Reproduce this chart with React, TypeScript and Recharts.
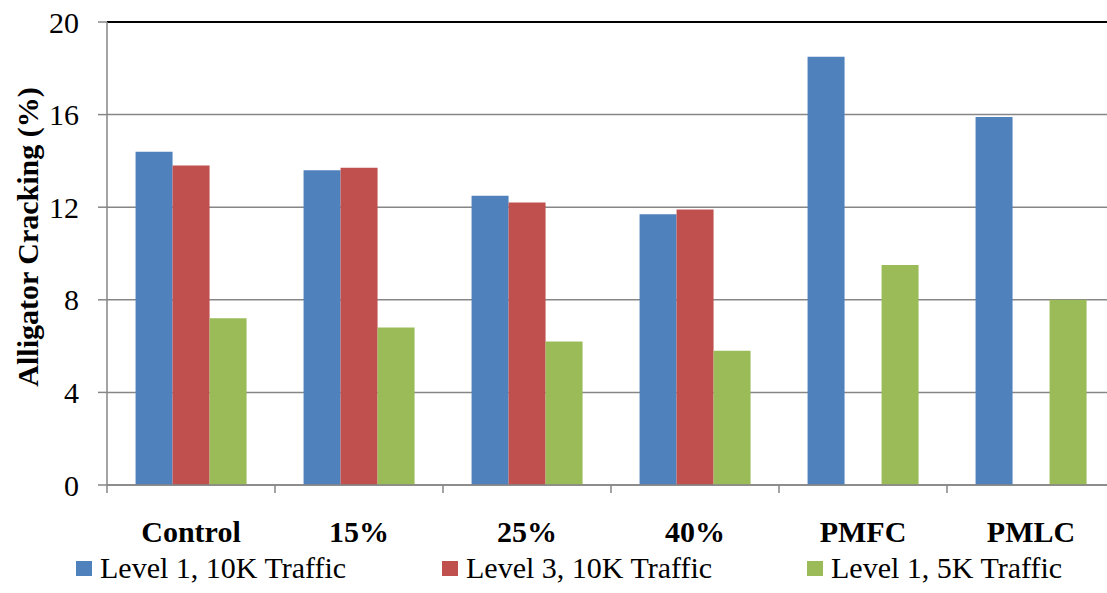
import React from 'react';
import {
  BarChart,
  Bar,
  XAxis,
  YAxis,
  CartesianGrid,
  ReferenceLine,
  Legend,
} from 'recharts';

const categories = ['Control', '15%', '25%', '40%', 'PMFC', 'PMLC'];
const level1Traffic10K = [14.4, 13.6, 12.5, 11.7, 18.5, 15.9];
const level3Traffic10K = [13.8, 13.7, 12.2, 11.9, null, null];
const level1Traffic5K = [7.2, 6.8, 6.2, 5.8, 9.5, 8.0];
const yTicks = [0, 4, 8, 12, 16, 20];

const seriesNames = ['Level 1, 10K Traffic', 'Level 3, 10K Traffic', 'Level 1, 5K Traffic'];
const colors = ['#4F81BD', '#C0504D', '#9BBB59'];

const data = categories.map((name, i) => ({
  name,
  l1_10k: level1Traffic10K[i],
  l3_10k: level3Traffic10K[i],
  l1_5k: level1Traffic5K[i],
}));

const FONT = '"Liberation Serif", "DejaVu Serif", "Times New Roman", serif';
const GRID = '#868686';
const BAND = 168;

function CategoryTick(props: any) {
  const { x, y, payload } = props;
  return (
    <g>
      <line x1={x - BAND / 2} x2={x - BAND / 2} y1={y} y2={y + 8} stroke={GRID} strokeWidth={1.5} />
      <text
        x={x}
        y={y + 57}
        textAnchor="middle"
        style={{ fontFamily: FONT }}
        fontWeight="bold"
        fontSize={30}
        fill="#000"
      >
        {payload.value}
      </text>
    </g>
  );
}

function LegendContent() {
  const lefts = [76, 442, 807];
  return (
    <div style={{ position: 'relative', height: 48, width: 1107 }}>
      {seriesNames.map((n, i) => (
        <div
          key={n}
          style={{
            position: 'absolute',
            left: lefts[i],
            top: 5,
            display: 'flex',
            alignItems: 'center',
            fontFamily: FONT,
            fontSize: 30,
            color: '#000',
            whiteSpace: 'nowrap',
            lineHeight: '36px',
          }}
        >
          <span style={{ display: 'inline-block', width: 16, height: 15, background: colors[i], marginRight: 8 }} />
          {n}
        </div>
      ))}
    </div>
  );
}

export default function App() {
  return (
    <div style={{ position: 'absolute', left: 0, top: 0, width: 1107, height: 593, overflow: 'hidden', background: '#fff', fontFamily: FONT }}>
      <BarChart
        width={1125}
        height={593}
        data={data}
        margin={{ top: 22, right: 10, bottom: 0, left: 0 }}
        barCategoryGap="17%"
        barGap={0}
      >
        <CartesianGrid vertical={false} stroke={GRID} strokeWidth={1.5} />
        <XAxis
          dataKey="name"
          height={60}
          tickLine={false}
          tickSize={0}
          tickMargin={0}
          axisLine={{ stroke: GRID, strokeWidth: 1.5 }}
          tick={<CategoryTick />}
          interval={0}
        />
        <YAxis
          width={107}
          domain={[0, 20]}
          ticks={yTicks}
          interval={0}
          tickSize={9}
          tickMargin={19}
          axisLine={{ stroke: GRID, strokeWidth: 1.5 }}
          tickLine={{ stroke: GRID, strokeWidth: 1.5 }}
          tick={{ fontSize: 30, fill: '#000', style: { fontFamily: FONT } }}
          label={{
            content: () => (
              <text
                transform="translate(38, 237) rotate(-90)"
                textAnchor="middle"
                style={{ fontFamily: FONT }}
                fontWeight="bold"
                fontSize={30}
                fill="#000"
              >
                Alligator Cracking (%)
              </text>
            ),
          }}
        />
        <ReferenceLine y={20} stroke="#000" strokeWidth={2} />
        <Legend verticalAlign="bottom" height={48} content={<LegendContent />} wrapperStyle={{ left: 0 }} />
        <Bar dataKey="l1_10k" name={seriesNames[0]} fill={colors[0]} isAnimationActive={false} />
        <Bar dataKey="l3_10k" name={seriesNames[1]} fill={colors[1]} isAnimationActive={false} />
        <Bar dataKey="l1_5k" name={seriesNames[2]} fill={colors[2]} isAnimationActive={false} />
      </BarChart>
    </div>
  );
}
